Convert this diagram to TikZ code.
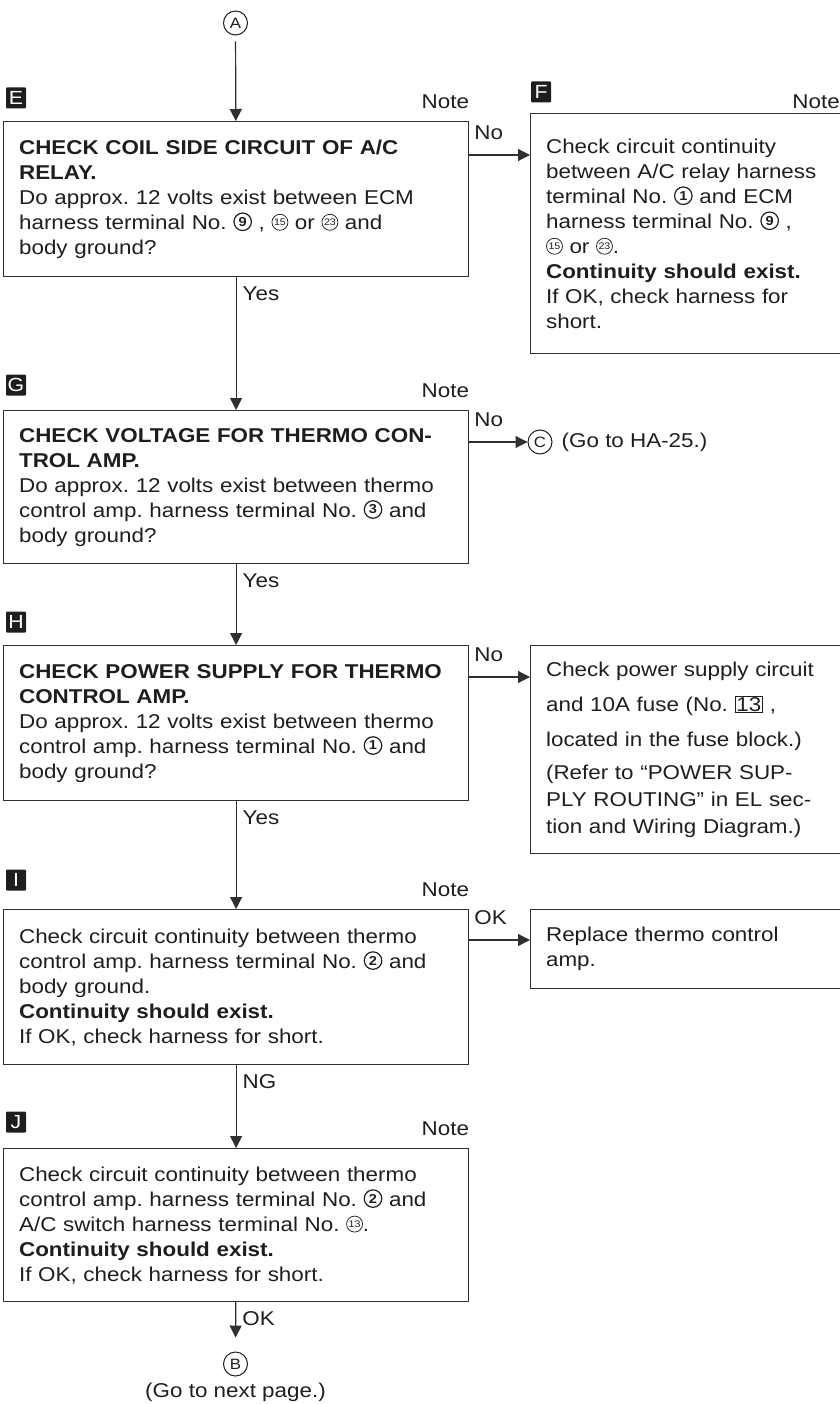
\documentclass[tikz,border=0pt]{standalone}
\usepackage{fontspec}
\setmainfont{Liberation Sans}[FakeStretch=1.12]
\usetikzlibrary{arrows.meta,positioning,calc}
\definecolor{ink}{HTML}{1E1E1E}
\definecolor{rule}{HTML}{303030}
\setlength{\fboxsep}{1pt}
\setlength{\fboxrule}{0.8pt}
\frenchspacing

% circled terminal numbers, bold and thin
\newcommand{\cnum}[1]{\tikz[baseline={([yshift=-7.5pt]cn.center)}]
  \node[draw=ink,circle,line width=1.2pt,inner sep=0pt,minimum size=17.5pt,
    text width={},anchor=center,align=center,text=ink,
    font=\fontsize{13}{13}\selectfont\bfseries] (cn) {#1};}
\newcommand{\cnumt}[1]{\tikz[baseline={([yshift=-7pt]cn.center)}]
  \node[draw=ink,circle,line width=0.75pt,inner sep=0pt,minimum size=16pt,
    text width={},anchor=center,align=center,text=ink,
    font=\fontsize{9.5}{9.5}\selectfont] (cn) {#1};}

\begin{document}
\begin{tikzpicture}[x=1pt,y=1pt,
    box/.style={draw=rule,line width=1.2pt,anchor=north west,text=ink,
      align=left,inner xsep=15.5pt,inner ysep=0pt,
      font=\fontsize{20}{25}\selectfont},
    mainbox/.style={box,text width=434pt,minimum height=155pt},
    sidebox/.style={box,text width=284pt},
    badge/.style={fill=ink,text=white,minimum width=20pt,minimum height=21pt,
      inner sep=0pt,rounded corners=1pt,font=\fontsize{19}{19}\selectfont},
    note/.style={inner sep=0pt,text=ink,font=\fontsize{20}{25}\selectfont},
    lbl/.style={note,pos=0,anchor=north west,xshift=6pt,yshift=-9pt},
    cletter/.style={draw=ink,circle,line width=1pt,minimum size=24pt,
      inner sep=0pt,text=ink,font=\fontsize{15}{15}\selectfont},
    arr/.style={draw=rule,line width=1.2pt,-{Triangle[length=12pt,width=12pt]}}]

  \useasboundingbox (0,0) rectangle (839,-1404);

  % main column
  \node[mainbox] (E) at (3,-121) {\textbf{CHECK COIL SIDE CIRCUIT OF A/C}\\
    \textbf{RELAY.}\\
    Do approx. 12 volts exist between ECM\\
    harness terminal No. \cnum{9} , \cnumt{15} or \cnumt{23} and\\
    body ground?};
  \node[mainbox,minimum height=153pt] (G) at (3,-410) {\textbf{CHECK VOLTAGE FOR THERMO CON-}\\
    \textbf{TROL AMP.}\\
    Do approx. 12 volts exist between thermo\\
    control amp. harness terminal No. \cnum{3} and\\
    body ground?};
  \node[mainbox] (H) at (3,-645) {\textbf{CHECK POWER SUPPLY FOR THERMO}\\
    \textbf{CONTROL AMP.}\\
    Do approx. 12 volts exist between thermo\\
    control amp. harness terminal No. \cnum{1} and\\
    body ground?};
  \node[mainbox] (I) at (3,-909) {Check circuit continuity between thermo\\
    control amp. harness terminal No. \cnum{2} and\\
    body ground.\\
    \textbf{Continuity should exist.}\\
    If OK, check harness for short.};
  \node[mainbox,minimum height=153pt] (J) at (3,-1148) {Check circuit continuity between thermo\\
    control amp. harness terminal No. \cnum{2} and\\
    A/C switch harness terminal No. \cnumt{13}.\\
    \textbf{Continuity should exist.}\\
    If OK, check harness for short.};

  % side column
  \node[sidebox,minimum height=240pt] (F) at (530,-113) {Check circuit continuity\\
    between A/C relay harness\\
    terminal No. \cnum{1} and ECM\\
    harness terminal No. \cnum{9} ,\\
    \cnumt{15} or \cnumt{23}.\\
    \textbf{Continuity should exist.}\\
    If OK, check harness for\\
    short.};
  \node[sidebox,minimum height=208pt,font=\fontsize{20}{27}\selectfont] (P) at (530,-645) {Check power supply circuit\\[8pt]
    and 10A fuse (No. \fbox{13} ,\\[8pt]
    located in the fuse block.)\\[6pt]
    (Refer to “POWER SUP-\\
    PLY ROUTING” in EL sec-\\
    tion and Wiring Diagram.)};
  \node[sidebox,minimum height=79pt] (R) at (530,-909) {Replace thermo control\\
    amp.};

  % step badges and notes
  \foreach \nm/\xx/\yy in {E/16/98,F/541/92,G/16/385,H/16/622,I/16/880,J/16/1122}
    \node[badge] (b\nm) at (\xx,-\yy) {\nm};
  \foreach \bx in {E,G,I,J}
    \node[note,above left=12pt and 0pt of \bx.north east] (n\bx) {Note};
  \node[note,anchor=base east] (nF) at (840,-109) {Note};

  % connectors
  \node[cletter] (A) at (235.5,-23) {A};
  \node[cletter] (B) at (235.5,-1364) {B};
  \node[cletter] (C) at (540,-442) {C};
  \node[note,right=9pt of C] (goC) {(Go to HA-25.)};
  \node[note,below=6pt of B] (goB) {(Go to next page.)};

  \draw[arr,shorten <=6pt] (A) -- (E);
  \draw[arr] (E) -- node[lbl] (yE) {Yes} (G);
  \draw[arr] (G) -- node[lbl] (yG) {Yes} (H);
  \draw[arr] (H) -- node[lbl] (yH) {Yes} (I);
  \draw[arr] (I) -- node[lbl] (ngI) {NG} (J);
  \draw[arr,shorten >=14pt] (J) -- node[lbl] (okJ) {OK} (B);

  \coordinate (eNo) at ($(E.north east)+(0,-34)$);
  \coordinate (gNo) at ($(G.north east)+(0,-32)$);
  \coordinate (hNo) at ($(H.north east)+(0,-32)$);
  \coordinate (iOk) at ($(I.north east)+(0,-31)$);
  \draw[arr] (eNo) -- (eNo -| F.west);
  \draw[arr] (gNo) -- (C);
  \draw[arr] (hNo) -- (hNo -| P.west);
  \draw[arr] (iOk) -- (iOk -| R.west);
  \node[note,above right=15pt and 5pt of eNo] (noE) {No};
  \node[note,above right=15pt and 5pt of gNo] (noG) {No};
  \node[note,above right=15pt and 5pt of hNo] (noH) {No};
  \node[note,above right=15pt and 5pt of iOk] (okI) {OK};
\end{tikzpicture}
\end{document}
